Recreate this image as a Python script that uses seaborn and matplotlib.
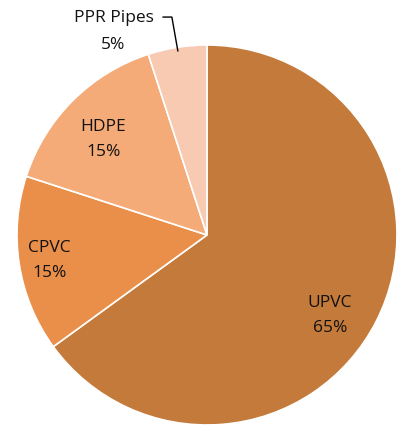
import matplotlib
matplotlib.use("Agg")
import matplotlib.pyplot as plt
import seaborn as sns
import numpy as np

# ── Data ──────────────────────────────────────────────────────────
CATEGORIES = ["UPVC", "CPVC", "HDPE", "PPR Pipes"]
SHARES     = [65, 15, 15, 5]
COLORS     = ["#C47A3A", "#E98F4A", "#F4AB78", "#F8CAB2"]

sns.set_theme(style="white")
plt.rcParams["font.family"] = ["Open Sans", "DejaVu Sans"]

fig = plt.figure(figsize=(4.01, 4.35), dpi=100)
ax = fig.add_axes([0.0424, 0.0207, 0.9476, 0.8736])

wedges, _ = ax.pie(
    SHARES,
    colors=COLORS,
    startangle=90,
    counterclock=False,
    radius=1.0,
    wedgeprops=dict(edgecolor="white", linewidth=1.2),
)
ax.set_xlim(-1, 1)
ax.set_ylim(-1, 1)
ax.set_aspect("equal")
ax.axis("off")

# label placement (radius, angle offset) per slice
label_r = [0.77, 0.84, 0.745, None]
offsets = [-6, 0, 2, 0]
for w, cat, val, r, off in zip(wedges, CATEGORIES, SHARES, label_r, offsets):
    mid = np.deg2rad((w.theta1 + w.theta2) / 2 + off)
    if r is None:
        # outside label with leader line
        ax.annotate(
            cat, xy=(np.cos(mid) * 0.98, np.sin(mid) * 0.98),
            xytext=(-0.489, 1.147), ha="center", va="center",
            fontsize=12.5, color="#111111", annotation_clip=False,
            arrowprops=dict(arrowstyle="-", color="black", lw=1.0,
                            shrinkA=4, shrinkB=0,
                            connectionstyle="angle,angleA=0,angleB=-80,rad=0"),
        )
        ax.text(-0.495, 1.005, f"{val}%", ha="center", va="center",
                fontsize=12.5, color="#111111", clip_on=False)
    else:
        ax.text(np.cos(mid) * r, np.sin(mid) * r, f"{cat}\n{val}%",
                ha="center", va="center",
                fontsize=12.5, linespacing=1.75, color="#111111")

fig.savefig("out.png", dpi=100)
